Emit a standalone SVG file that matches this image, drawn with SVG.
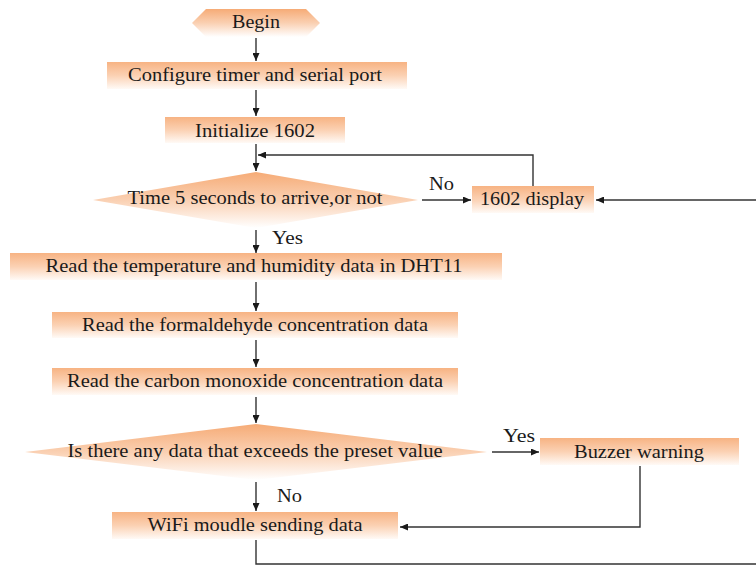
<svg xmlns="http://www.w3.org/2000/svg" width="756" height="566" viewBox="0 0 756 566">
  <defs>
    <linearGradient id="boxg" x1="0" y1="0" x2="0" y2="1">
      <stop offset="0" stop-color="#f7b383"/>
      <stop offset="0.5" stop-color="#fbd1b3"/>
      <stop offset="1" stop-color="#fffaf6"/>
    </linearGradient>
    <linearGradient id="diag" x1="0" y1="0" x2="0" y2="1">
      <stop offset="0" stop-color="#f6ab76"/>
      <stop offset="0.5" stop-color="#fad0b2"/>
      <stop offset="1" stop-color="#ffffff"/>
    </linearGradient>
    <marker id="ah" viewBox="0 0 8 7" refX="8" refY="3.5" markerWidth="8" markerHeight="7" markerUnits="userSpaceOnUse" orient="auto">
      <path d="M0,0 L8,3.5 L0,7 z" fill="#1a1a1a"/>
    </marker>
  </defs>
  <style>
    .box { fill: url(#boxg); stroke: none; }
    .dia { fill: url(#diag); stroke: none; }
    .t { font-family: "Liberation Serif", "Times New Roman", serif; font-size: 18px; fill: #1a1a1a; text-anchor: middle; }
    .lbl { font-family: "Liberation Serif", "Times New Roman", serif; font-size: 18px; fill: #1a1a1a; }
    .c { fill: none; stroke: #333; stroke-width: 1.4; }
    .ca { fill: none; stroke: #333; stroke-width: 1.4; marker-end: url(#ah); }
  </style>
  <rect width="756" height="566" fill="#ffffff"/>

  <g id="begin">
    <polygon class="dia" points="192,23 206,9 306,9 320,23 306,37 206,37"/>
    <text class="t" x="256" y="28" textLength="48" lengthAdjust="spacingAndGlyphs">Begin</text>
  </g>
  <g id="configure">
    <rect class="box" x="107" y="62" width="300" height="27"/>
    <text class="t" x="255" y="81" textLength="254" lengthAdjust="spacingAndGlyphs">Configure timer and serial port</text>
  </g>
  <g id="init">
    <rect class="box" x="165" y="117" width="180" height="26"/>
    <text class="t" x="255" y="137" textLength="120" lengthAdjust="spacingAndGlyphs">Initialize 1602</text>
  </g>
  <g id="decision1">
    <polygon class="dia" points="93,200 256,172 418,200 256,228"/>
    <text class="t" x="255" y="204" textLength="255" lengthAdjust="spacingAndGlyphs">Time 5 seconds to arrive,or not</text>
  </g>
  <g id="display">
    <rect class="box" x="472" y="186" width="122" height="27"/>
    <text class="t" x="532" y="205" textLength="104" lengthAdjust="spacingAndGlyphs">1602 display</text>
  </g>
  <g id="readdht">
    <rect class="box" x="10" y="253" width="492" height="27"/>
    <text class="t" x="254" y="272" textLength="417" lengthAdjust="spacingAndGlyphs">Read the temperature and humidity data in DHT11</text>
  </g>
  <g id="readhcho">
    <rect class="box" x="52" y="312" width="406" height="26"/>
    <text class="t" x="255" y="331" textLength="346" lengthAdjust="spacingAndGlyphs">Read the formaldehyde concentration data</text>
  </g>
  <g id="readco">
    <rect class="box" x="52" y="368" width="406" height="27"/>
    <text class="t" x="255" y="387" textLength="376" lengthAdjust="spacingAndGlyphs">Read the carbon monoxide concentration data</text>
  </g>
  <g id="decision2">
    <polygon class="dia" points="25,452 256,424 487,452 256,480"/>
    <text class="t" x="255" y="457" textLength="375" lengthAdjust="spacingAndGlyphs">Is there any data that exceeds the preset value</text>
  </g>
  <g id="buzzer">
    <rect class="box" x="540" y="438" width="199" height="27"/>
    <text class="t" x="639" y="458" textLength="130" lengthAdjust="spacingAndGlyphs">Buzzer warning</text>
  </g>
  <g id="wifi">
    <rect class="box" x="112" y="512" width="286" height="27"/>
    <text class="t" x="255" y="531" textLength="215" lengthAdjust="spacingAndGlyphs">WiFi moudle sending data</text>
  </g>

  <g id="connectors">
    <line class="ca" x1="256" y1="38" x2="256" y2="61"/>
    <line class="ca" x1="256" y1="90" x2="256" y2="116"/>
    <line class="ca" x1="256" y1="144" x2="256" y2="171"/>
    <polyline class="ca" points="533,186 533,155 258,155"/>
    <line class="ca" x1="422" y1="200" x2="471" y2="200"/>
    <line class="ca" x1="756" y1="200" x2="596" y2="200"/>
    <line class="ca" x1="256" y1="230" x2="256" y2="253"/>
    <line class="ca" x1="256" y1="282" x2="256" y2="311"/>
    <line class="ca" x1="256" y1="340" x2="256" y2="367"/>
    <line class="ca" x1="256" y1="397" x2="256" y2="423"/>
    <line class="ca" x1="492" y1="452" x2="539" y2="452"/>
    <line class="ca" x1="256" y1="482" x2="256" y2="511"/>
    <polyline class="ca" points="640,466 640,527 400,527"/>
    <polyline class="c" points="256,540 256,564 756,564"/>
  </g>
  <g id="labels">
    <text class="lbl" x="429" y="190" textLength="25" lengthAdjust="spacingAndGlyphs">No</text>
    <text class="lbl" x="272" y="244" textLength="31" lengthAdjust="spacingAndGlyphs">Yes</text>
    <text class="lbl" x="503" y="442" textLength="32" lengthAdjust="spacingAndGlyphs">Yes</text>
    <text class="lbl" x="277" y="502" textLength="25" lengthAdjust="spacingAndGlyphs">No</text>
  </g>
</svg>
